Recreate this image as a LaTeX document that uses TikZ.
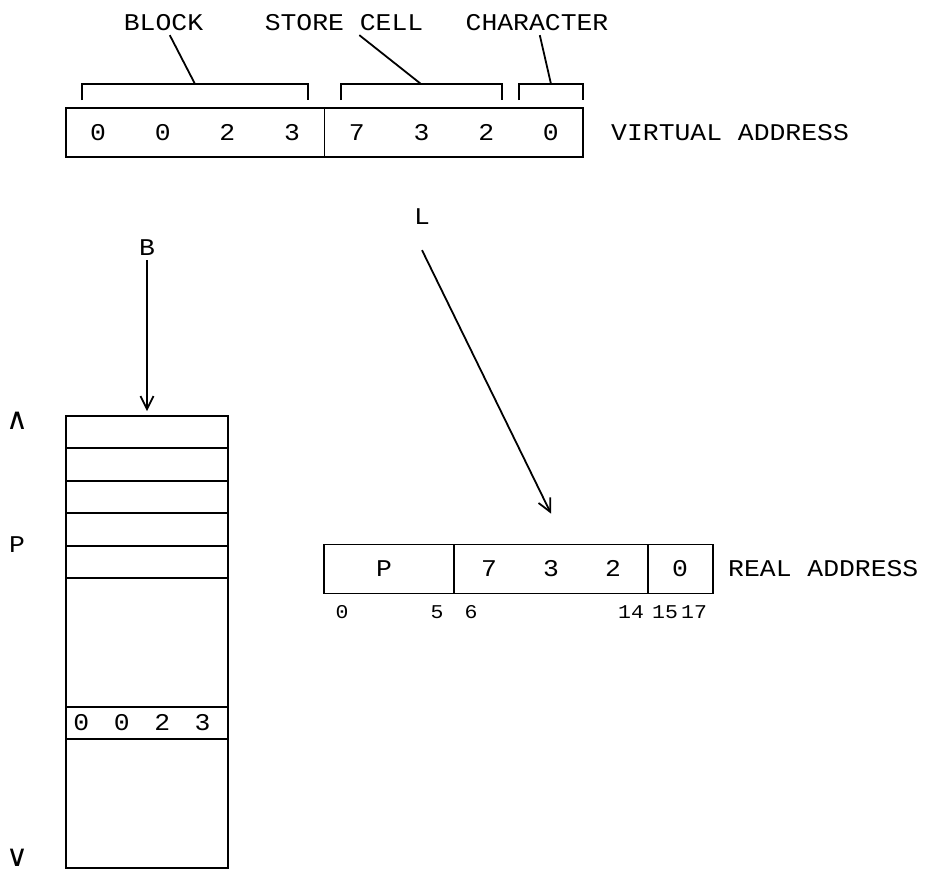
\documentclass[tikz,border=0pt]{standalone}
\usepackage{fontspec}
\newfontfamily\addrfont[FakeStretch=1.1]{Liberation Mono}
\newfontfamily\symbfont{DejaVu Sans}
\usetikzlibrary{arrows.meta,positioning}

\begin{document}
\begin{tikzpicture}[x=1pt, y=-1pt, line width=1.8pt,
    every node/.style={font=\addrfont\fontsize{24}{28}\selectfont, text height=15.8pt, text depth=0pt},
    field/.style={draw, minimum height=49pt, inner sep=0pt},
    bitno/.style={font=\addrfont\fontsize{19.5}{23}\selectfont, text height=12.8pt},
    endsym/.style={font=\symbfont\fontsize{30}{34}\selectfont, text height=12pt},
    ptr/.style={-{Straight Barb[length=13pt,width=13pt]}}]
        \useasboundingbox (0,0) rectangle (926,873);

        % Virtual address
        \node[field, minimum width=258.5pt] (VBlk) at (195.25,132.5) {};
        \node[field, minimum width=258.5pt] (VCell) at (453.75,132.5) {};
        \foreach \d [count=\i] in {0,0,2,3,7,3,2,0}
          \node (V\i) at ({33.3+64.7*\i},133) {\d};
        \node[anchor=west] (VAddr) at (607,133) {VIRTUAL ADDRESS};

        % Brackets and their labels
        \draw (82,100) |- (308,84) -- (308,100);
        \draw (341,100) |- (502,84) -- (502,100);
        \draw (519,100) |- (583,84) -- (583,100);
        \coordinate (BBlk) at (195,84);
        \coordinate (BCell) at (421,84);
        \coordinate (BChr) at (551,84);
        \node (Blk) at (163.5,23) {BLOCK};
        \node (Cell) at (344,23) {STORE CELL};
        \node (Chr) at (537,23) {CHARACTER};
        \draw (Blk) -- (BBlk);
        \draw (Cell) -- (BCell);
        \draw (Chr) -- (BChr);

        % Page table
        \node[draw, minimum width=162pt, minimum height=452pt, inner sep=0pt] (Mem) at (147,642) {};
        \foreach \y in {448,481,513,546,578,707,739}
          \draw (66,\y) -- (228,\y);
        \foreach \d [count=\i] in {0,0,2,3}
          \node (M\i) at ({41+40.4*\i},723) {\d};
        \node[endsym] (Up) at (17,423) {∧};
        \node (PRow) at (17,545) {P};
        \node[endsym] (Down) at (17,860) {∨};

        % Real address
        \node[field, minimum width=130pt] (RPage) at (389,569) {};
        \node[field, minimum width=194pt] (RCell) at (551,569) {};
        \node[field, minimum width=65pt] (RChr) at (680.5,569) {};
        \node (RP) at (384,569) {P};
        \foreach \d/\x [count=\i] in {7/489,3/551,2/613,0/680}
          \node (R\i) at (\x,569) {\d};
        \foreach \b/\x in {0/342,5/437,6/471,14/631,15/665,17/694}
          \node[bitno] (Bit\b) at (\x,612) {\b};
        \node[anchor=west] (RAddr) at (724,569) {REAL ADDRESS};

        % Pointers
        \node (LblB) at (147,248) {B};
        \node (LblL) at (422,217) {L};
        \draw[ptr, shorten >=4pt] (LblB) -- (Mem.north);
        \draw[ptr] ([yshift=-21pt]LblL.south) -- ([yshift=30pt]RCell.north);
      \end{tikzpicture}
\end{document}
